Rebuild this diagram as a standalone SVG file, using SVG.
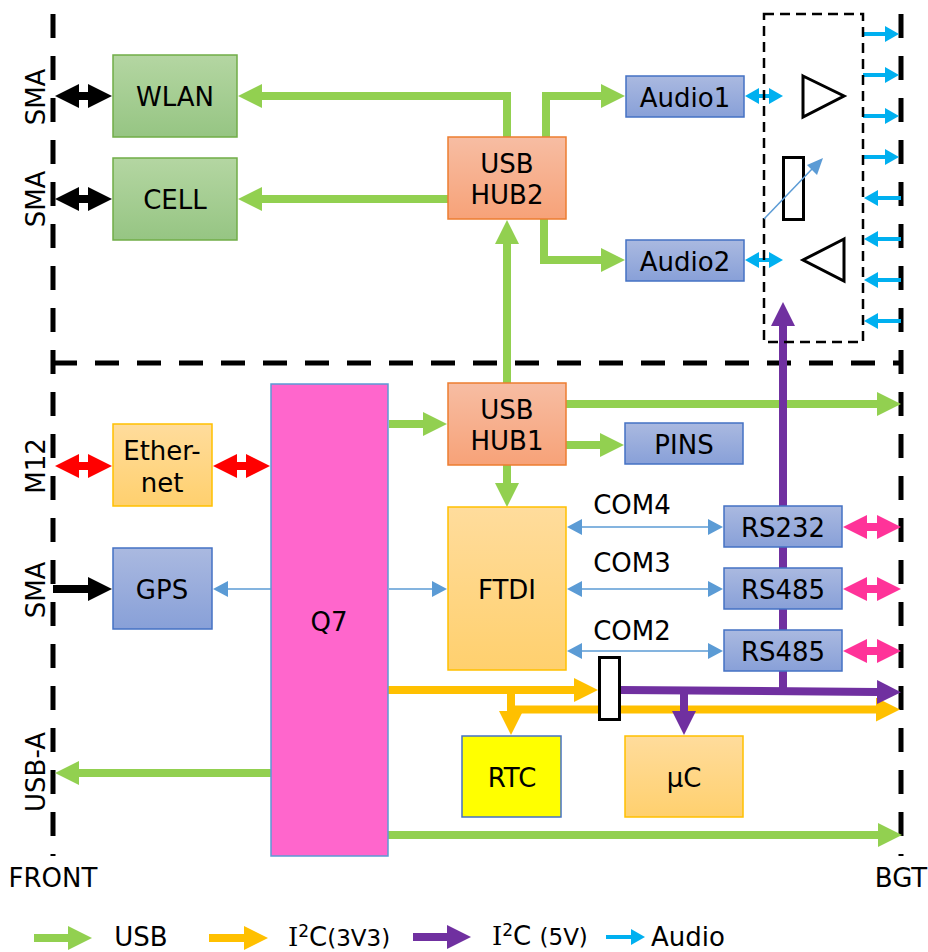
<svg xmlns="http://www.w3.org/2000/svg" width="928" height="952" viewBox="0 0 928 952">
<style>
text{font-family:"DejaVu Sans",Verdana,sans-serif;font-size:26px;fill:#000;text-anchor:middle}
.n{stroke-width:1.5}
.blue{fill:url(#gb);stroke:#4472c4}.green{fill:url(#gg);stroke:#70ad47}.hub{fill:url(#gh);stroke:#ed7d31}.amb{fill:url(#ga);stroke:#ffc000}
.bound{fill:none;stroke:#000;stroke-width:5;stroke-dasharray:24 18}
.w{fill:none;stroke-width:8}
.gr{stroke:#92d050;marker-end:url(#mg)}.or{stroke:#ffc000;marker-end:url(#mo)}.pu{stroke:#7030a0;marker-end:url(#mp)}
.bk{stroke:#000;marker-end:url(#mk)}.bkd{stroke:#000;marker-end:url(#mk);marker-start:url(#mk)}
.re{stroke:#f00;marker-end:url(#mr);marker-start:url(#mr)}.pk{stroke:#ff3399;marker-end:url(#mi);marker-start:url(#mi)}
.th{fill:none;stroke:#5b9bd5;stroke-width:1.5;marker-end:url(#mb)}.thd{marker-start:url(#mb)}
.cy{fill:none;stroke:#00b0f0;stroke-width:4;marker-end:url(#mc)}.cyd{marker-start:url(#mc)}
.tri{fill:#fff;stroke:#000;stroke-width:3}
</style>
<defs>
<linearGradient id="gb" x1="0" y1="0" x2="0" y2="1"><stop offset="0" stop-color="#aab9e0"/><stop offset="1" stop-color="#88a0d8"/></linearGradient>
<linearGradient id="gg" x1="0" y1="0" x2="0" y2="1"><stop offset="0" stop-color="#b4d6a2"/><stop offset="1" stop-color="#96c583"/></linearGradient>
<linearGradient id="gh" x1="0" y1="0" x2="0" y2="1"><stop offset="0" stop-color="#f7bda3"/><stop offset="1" stop-color="#f7a278"/></linearGradient>
<linearGradient id="ga" x1="0" y1="0" x2="0" y2="1"><stop offset="0" stop-color="#ffdc9c"/><stop offset="1" stop-color="#ffd06e"/></linearGradient>
<marker id="mg" markerUnits="userSpaceOnUse" markerWidth="24" markerHeight="24" refX="0" refY="12" orient="auto-start-reverse"><path d="M0 0L24 12L0 24Z" fill="#92d050"/></marker>
<marker id="mo" markerUnits="userSpaceOnUse" markerWidth="24" markerHeight="24" refX="0" refY="12" orient="auto-start-reverse"><path d="M0 0L24 12L0 24Z" fill="#ffc000"/></marker>
<marker id="mp" markerUnits="userSpaceOnUse" markerWidth="24" markerHeight="24" refX="0" refY="12" orient="auto-start-reverse"><path d="M0 0L24 12L0 24Z" fill="#7030a0"/></marker>
<marker id="mk" markerUnits="userSpaceOnUse" markerWidth="24" markerHeight="24" refX="0" refY="12" orient="auto-start-reverse"><path d="M0 0L24 12L0 24Z" fill="#000"/></marker>
<marker id="mr" markerUnits="userSpaceOnUse" markerWidth="24" markerHeight="24" refX="0" refY="12" orient="auto-start-reverse"><path d="M0 0L24 12L0 24Z" fill="#f00"/></marker>
<marker id="mi" markerUnits="userSpaceOnUse" markerWidth="24" markerHeight="24" refX="0" refY="12" orient="auto-start-reverse"><path d="M0 0L24 12L0 24Z" fill="#ff3399"/></marker>
<marker id="mb" markerUnits="userSpaceOnUse" markerWidth="15" markerHeight="16" refX="0" refY="8" orient="auto-start-reverse"><path d="M0 0L15 8L0 16Z" fill="#5b9bd5"/></marker>
<marker id="mc" markerUnits="userSpaceOnUse" markerWidth="14" markerHeight="16" refX="0" refY="8" orient="auto-start-reverse"><path d="M0 0L14 8L0 16Z" fill="#00b0f0"/></marker>
</defs>
<g id="boundaries">
<path class="bound" d="M53 14V856"/>
<path class="bound" d="M901 14V856"/>
<path class="bound" d="M53 363H901"/>
</g>
<g id="connectors">
<path class="w gr" d="M507 137V96H262"/>
<path class="w gr" d="M546 137V96H601"/>
<path class="w gr" d="M448 199H262"/>
<path class="w gr" d="M507 383V244"/>
<path class="w gr" d="M544 219V260H601"/>
<path class="w gr" d="M389 424H423"/>
<path class="w gr" d="M566 404H877"/>
<path class="w gr" d="M566 445H600"/>
<path class="w gr" d="M507 465V483"/>
<path class="w gr" d="M271 773H79"/>
<path class="w gr" d="M388 835H878"/>
<path class="w bkd" d="M79 96H88"/>
<path class="w bkd" d="M79 199H88"/>
<path class="w bk" d="M53 589H88"/>
<path class="w re" d="M79 466H88"/>
<path class="w re" d="M237 466H246"/>
<path class="w pk" d="M867 527H877"/>
<path class="w pk" d="M867 589H877"/>
<path class="w pk" d="M867 651H877"/>
<path class="th" d="M271 589H228"/>
<path class="th" d="M389 589H432"/>
<path class="th thd" d="M582 527H708"/>
<path class="th thd" d="M582 589H708"/>
<path class="th thd" d="M582 651H708"/>
<path class="cy cyd" d="M759 96H769"/>
<path class="cy cyd" d="M759 260H769"/>
<path class="cy" d="M863 34H885"/>
<path class="cy" d="M863 75H885"/>
<path class="cy" d="M863 116H885"/>
<path class="cy" d="M863 157H885"/>
<path class="cy" d="M901 198H878"/>
<path class="cy" d="M901 239H878"/>
<path class="cy" d="M901 280H878"/>
<path class="cy" d="M901 321H878"/>
<path class="w or" d="M388 690H574"/>
<path class="w or" d="M511 690V711"/>
<path class="w or" d="M511 709.500H876"/>
<path class="w pu" d="M620 690L877 692"/>
<path class="w pu" d="M783 690V326"/>
<path class="w pu" d="M684 690V711"/>
</g>
<g id="amplifier">
<rect x="764" y="14" width="99" height="328" fill="none" stroke="#000" stroke-width="2.5" stroke-dasharray="10 6"/>
<path class="tri" d="M803 76L844 96L803 117Z"/>
<path class="tri" d="M844 239L803 260L844 281Z"/>
<rect x="783.500" y="157.500" width="20" height="62" class="tri"/>
<path d="M764 219L812 169" fill="none" stroke="#5b9bd5" stroke-width="1.5"/>
<path d="M823 158L817 175L807 165Z" fill="#5b9bd5"/>
</g>
<g id="wlan"><rect class="n green" x="113" y="55" width="124" height="82"/><text x="175" y="106">WLAN</text></g>
<g id="cell"><rect class="n green" x="113" y="158" width="124" height="82"/><text x="175" y="209">CELL</text></g>
<g id="hub2"><rect class="n hub" x="448" y="137" width="118" height="82"/><text x="507" y="173">USB</text><text x="507" y="204">HUB2</text></g>
<g id="audio1"><rect class="n blue" x="626" y="76" width="118" height="41"/><text x="685" y="107">Audio1</text></g>
<g id="audio2"><rect class="n blue" x="626" y="240" width="118" height="41"/><text x="685" y="271">Audio2</text></g>
<g id="hub1"><rect class="n hub" x="448" y="383" width="118" height="82"/><text x="507" y="419">USB</text><text x="507" y="450">HUB1</text></g>
<g id="pins"><rect class="n blue" x="625" y="423" width="118" height="41"/><text x="684" y="454">PINS</text></g>
<g id="ethernet"><rect class="n amb" x="113" y="424" width="99" height="82"/><text x="162" y="460">Ether-</text><text x="162" y="492">net</text></g>
<g id="q7"><rect x="271" y="384" width="117" height="472" fill="#ff66cc" stroke="#5b9bd5" stroke-width="1.500"/><text x="329" y="631">Q7</text></g>
<g id="gps"><rect class="n blue" x="113" y="548" width="99" height="81"/><text x="162" y="599">GPS</text></g>
<g id="ftdi"><rect class="n amb" x="448" y="507" width="118" height="163"/><text x="507" y="599">FTDI</text></g>
<g id="rs232"><rect class="n blue" x="724" y="506" width="118" height="41"/><text x="783" y="537">RS232</text></g>
<g id="rs485a"><rect class="n blue" x="724" y="568" width="118" height="41"/><text x="783" y="599">RS485</text></g>
<g id="rs485b"><rect class="n blue" x="724" y="630" width="118" height="41"/><text x="783" y="661">RS485</text></g>
<g id="rtc"><rect x="462" y="736" width="99" height="81" fill="#ff0" stroke="#4472c4" stroke-width="1.500"/><text x="512" y="787">RTC</text></g>
<g id="uc"><rect class="n amb" x="625" y="736" width="118" height="81"/><text x="684" y="787">µC</text></g>
<g id="level-shifter"><rect x="599.500" y="657.500" width="20" height="62" fill="#fff" stroke="#000" stroke-width="3"/></g>
<g id="labels">
<text x="632" y="514">COM4</text><text x="632" y="572">COM3</text><text x="632" y="640">COM2</text>
<text transform="translate(45 97) rotate(-90)">SMA</text>
<text transform="translate(45 199) rotate(-90)">SMA</text>
<text transform="translate(45 466) rotate(-90)">M12</text>
<text transform="translate(45 590) rotate(-90)">SMA</text>
<text transform="translate(45 772) rotate(-90)">USB-A</text>
<text x="53" y="887">FRONT</text><text x="901" y="887">BGT</text>
</g>
<g id="legend">
<path class="w gr" d="M34 938H68"/><text x="141" y="946">USB</text>
<path class="w or" d="M209 938H244"/><text x="288" y="946" style="text-anchor:start"><tspan style="font-family:'DejaVu Serif'">I</tspan><tspan dy="-9" font-size="17">2</tspan><tspan dy="9">C</tspan><tspan font-size="23">(3V3)</tspan></text>
<path class="w pu" d="M413 937H447"/><text x="492" y="945" style="text-anchor:start"><tspan style="font-family:'DejaVu Serif'">I</tspan><tspan dy="-9" font-size="17">2</tspan><tspan dy="9">C </tspan><tspan font-size="23">(5V)</tspan></text>
<path class="cy" d="M606 937H631"/><text x="688" y="946">Audio</text>
</g>
</svg>
